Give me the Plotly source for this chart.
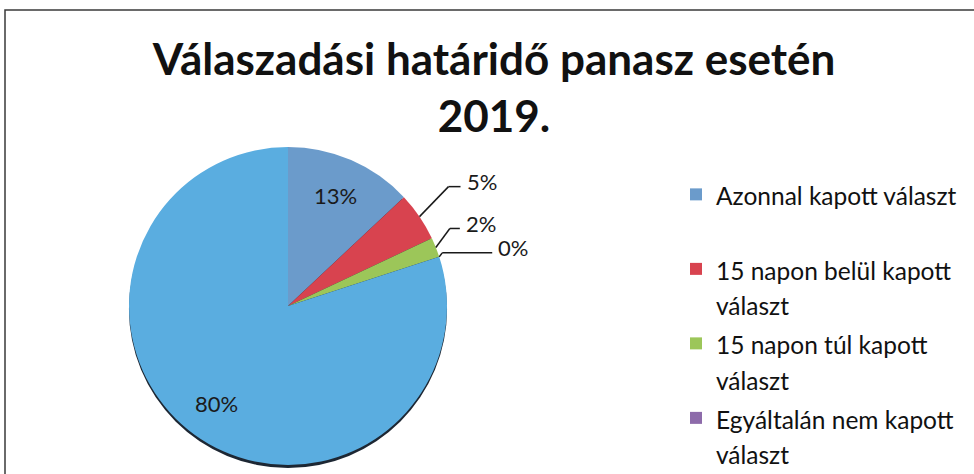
import math
import textwrap

import plotly.graph_objects as go

# ---- data -------------------------------------------------------------
categories = [
    "Azonnal kapott választ",
    "15 napon belül kapott választ",
    "15 napon túl kapott választ",
    "Egyáltalán nem kapott választ",
    "Nem tett panaszt",
]
shares = [13, 5, 2, 0, 80]
slice_colors = ["#6B9BCB", "#D8434F", "#9CC659", "#8D6BAA", "#5AADE0"]
chart_title = "Válaszadási határidő panasz esetén<br>2019."

# ---- layout geometry (pixels) -----------------------------------------
W, H = 974, 474
MARGIN = dict(l=5, r=0, t=10, b=0)
PW = W - MARGIN["l"] - MARGIN["r"]
PH = H - MARGIN["t"] - MARGIN["b"]

CX, CY, R = 288, 306, 159          # pie centre and radius
SHADOW_DY = 3                      # drop shadow offset below the pie
INSIDE_R = 0.76                    # radial position of inside labels
# leader line for small slices: elbow offset (dx, dy) from the rim, tail length
LEADERS = [(29, -30, 12), (14, -19, 10), (3, -4, 50)]
LABEL_FONT = dict(family="Lato", size=22, color="#1a1a1a")
LINE_COLOR = "#1a1a1a"


def to_paper(x, y):
    """Convert a pixel position in the page to paper coordinates."""
    return (x - MARGIN["l"]) / PW, (H - MARGIN["b"] - y) / PH


def rim_point(angle_deg, radius):
    a = math.radians(angle_deg)
    return CX + radius * math.sin(a), CY - radius * math.cos(a)


def pie_domain(dy=0):
    x0, y0 = to_paper(CX - R, CY + R + dy)
    x1, y1 = to_paper(CX + R, CY - R + dy)
    return dict(x=[x0, x1], y=[y0, y1])


# legend entries: wrapped onto two lines each, like the chart's legend
def legend_text(name):
    lines = textwrap.wrap(name, width=22)
    while len(lines) < 2:
        lines.append(" ")
    return "<br>".join(f"<span style='font-size:24.5px'>{ln}</span>" for ln in lines)


legend_labels = [legend_text(c) for c in categories]

fig = go.Figure()

# soft drop shadow under the pie
fig.add_trace(go.Pie(
    labels=["összesen"], values=[sum(shares)],
    marker=dict(colors=["#1d2733"], line=dict(width=0)),
    domain=pie_domain(SHADOW_DY), textinfo="none", hoverinfo="skip",
    showlegend=False, sort=False,
))

fig.add_trace(go.Pie(
    labels=legend_labels, values=shares,
    marker=dict(colors=slice_colors, line=dict(width=0)),
    domain=pie_domain(), sort=False, direction="clockwise", rotation=0,
    textinfo="none", hovertext=categories, hoverinfo="text+percent",
    showlegend=True,
))

# ---- percentage labels ------------------------------------------------
total = sum(shares)
annotations = []
shapes = []
start = 0.0
small_idx = 0
for v in shares:
    span = v / total * 360.0
    mid = start + span / 2
    label = f"{v}%"
    if v >= 10:
        x, y = rim_point(mid, R * INSIDE_R)
        px_, py_ = to_paper(x, y)
        annotations.append(dict(x=px_, y=py_, xref="paper", yref="paper",
                                text=label, showarrow=False, font=LABEL_FONT,
                                xanchor="center", yanchor="middle"))
    else:
        ex, ey, tail = LEADERS[small_idx]
        small_idx += 1
        x0, y0 = rim_point(mid, R)
        x1, y1 = x0 + ex, y0 + ey
        x2 = x1 + tail
        for (a, b), (c, d) in (((x0, y0), (x1, y1)), ((x1, y1), (x2, y1))):
            pa, pb = to_paper(a, b)
            pc, pd = to_paper(c, d)
            shapes.append(dict(type="line", xref="paper", yref="paper",
                               x0=pa, y0=pb, x1=pc, y1=pd,
                               line=dict(color=LINE_COLOR, width=1.5)))
        tx, ty = to_paper(x2 + 4, y1 - 5)
        annotations.append(dict(x=tx, y=ty, xref="paper", yref="paper",
                                text=label, showarrow=False, font=LABEL_FONT,
                                xanchor="left", yanchor="middle"))
    start += span

# chart frame (continues past the right and bottom edges)
shapes.append(dict(type="rect", xref="paper", yref="paper",
                   x0=0, y0=-0.05, x1=1.05, y1=1,
                   line=dict(color="#3a3a3a", width=1.5), layer="below"))

lx, _ = to_paper(676, 0)
_, ly = to_paper(0, 170)

fig.update_layout(
    width=W, height=H,
    margin=dict(**MARGIN, pad=0, autoexpand=False),
    paper_bgcolor="white", plot_bgcolor="white",
    title=dict(text=f"<b>{chart_title}</b>", x=494 / W, xanchor="center",
               xref="container", y=1 - 75 / H, yanchor="top", yref="container",
               font=dict(family="Lato", size=44, color="#111111")),
    legend=dict(x=lx, xanchor="left", y=ly, yanchor="top", valign="top",
                font=dict(family="Lato", size=27.5, color="#111111"),
                bgcolor="rgba(0,0,0,0)", maxheight=1000),
    annotations=annotations,
    shapes=shapes,
)

fig.write_html("out.html")
